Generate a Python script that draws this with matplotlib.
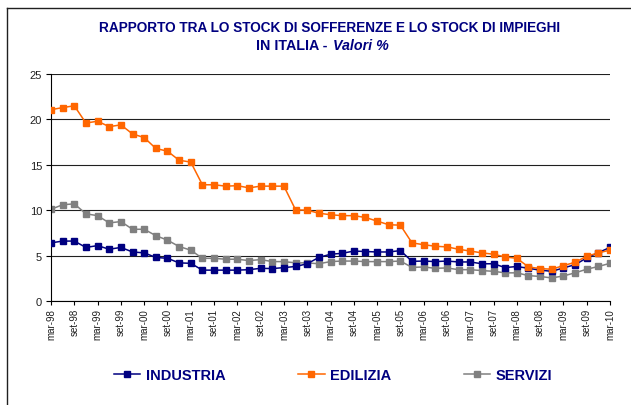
import matplotlib
matplotlib.use("Agg")
import matplotlib.pyplot as plt
from matplotlib.lines import Line2D

plt.rcParams['font.family'] = ['Liberation Sans', 'DejaVu Sans']

years = ["98", "99", "00", "01", "02", "03", "04", "05", "06", "07", "08", "09", "10"]
tick_labels = []
for y in years:
    tick_labels.append("mar-" + y)
    if y != "10":
        tick_labels.append("set-" + y)

industria = [6.4, 6.6, 6.6, 5.9, 6.1, 5.7, 5.9, 5.4, 5.3, 4.8, 4.7, 4.2, 4.15, 3.4, 3.4, 3.4,
             3.4, 3.45, 3.6, 3.57, 3.68, 3.8, 4.1, 4.8, 5.15, 5.25, 5.5, 5.45, 5.4, 5.4, 5.55, 4.37,
             4.4, 4.34, 4.4, 4.3, 4.3, 4.1, 4.1, 3.68, 3.8, 3.6, 3.4, 3.27, 3.64, 4.0, 4.74, 5.33, 5.9]
edilizia = [21.07, 21.3, 21.5, 19.6, 19.8, 19.2, 19.4, 18.4, 18.0, 16.8, 16.5, 15.5, 15.3, 12.8, 12.8, 12.65,
            12.7, 12.46, 12.65, 12.65, 12.65, 10.04, 10.0, 9.67, 9.5, 9.4, 9.4, 9.2, 8.8, 8.4, 8.35, 6.4,
            6.2, 6.03, 5.96, 5.7, 5.5, 5.3, 5.15, 4.85, 4.7, 3.75, 3.57, 3.5, 3.9, 4.26, 4.93, 5.3, 5.6]
servizi = [10.1, 10.6, 10.7, 9.6, 9.4, 8.6, 8.75, 7.9, 7.9, 7.2, 6.7, 6.0, 5.6, 4.7, 4.7, 4.6,
           4.6, 4.45, 4.56, 4.34, 4.34, 4.2, 4.2, 4.1, 4.34, 4.4, 4.4, 4.34, 4.34, 4.34, 4.4, 3.7,
           3.75, 3.6, 3.64, 3.45, 3.45, 3.35, 3.27, 3.1, 3.1, 2.8, 2.7, 2.54, 2.76, 3.1, 3.5, 3.8, 4.15]

NAVY = '#000080'
ORANGE = '#FF6600'
GREY = '#808080'

fig = plt.figure(figsize=(6.31, 4.06), dpi=100)
ax = fig.add_axes([51/631, 1-302/406, (610-51)/631, (302-75)/406])

x = list(range(len(industria)))
lw = 1.1
ms = 4.2
l1, = ax.plot(x, industria, color=NAVY, lw=lw, marker='s', ms=ms, label='INDUSTRIA', zorder=3)
l2, = ax.plot(x, edilizia, color=ORANGE, lw=lw, marker='s', ms=ms, label='EDILIZIA', zorder=3)
l3, = ax.plot(x, servizi, color=GREY, lw=lw, marker='s', ms=ms, label='SERVIZI', zorder=2)

ax.set_xlim(0, len(industria) - 1)
ax.set_ylim(0, 25)
ax.set_yticks([0, 5, 10, 15, 20, 25])
ax.set_xticks(list(range(0, len(industria), 2)))
ax.set_xticklabels(tick_labels, rotation=90, fontsize=7)
ax.tick_params(axis='y', labelsize=8, direction='out', length=3.5, width=0.8, pad=3,
               labelcolor='#202020')
ax.tick_params(axis='x', direction='out', length=3, width=0.8, pad=2, labelcolor='#202020')

ax.yaxis.grid(True, color='#202020', lw=0.8)
ax.set_axisbelow(True)
for s in ['top', 'right']:
    ax.spines[s].set_visible(False)
for s in ['left', 'bottom']:
    ax.spines[s].set_color('black')
    ax.spines[s].set_linewidth(0.8)

# page frame lines
fig.add_artist(Line2D([7/631, 1], [1-9/406, 1-9/406], color='#202020', lw=1.0))
fig.add_artist(Line2D([7/631, 7/631], [0, 1-9/406], color='#202020', lw=1.0))

fig.text(329.5/631, 1-28/406, "RAPPORTO TRA LO STOCK DI SOFFERENZE E LO STOCK DI IMPIEGHI",
         ha='center', va='center', fontsize=9.8, fontweight='bold', color=NAVY)
fig.text(327/631, 1-46/406, "IN ITALIA -", ha='right', va='center',
         fontsize=10.3, fontweight='bold', color=NAVY)
fig.text(333/631, 1-46/406, "Valori %", ha='left', va='center',
         fontsize=10.3, fontstyle='italic', fontweight='bold', color=NAVY)

leg = fig.legend(handles=[l1, l2, l3], loc='center', bbox_to_anchor=(333/631, 1-376/406),
                 ncol=3, frameon=False, handlelength=1.8, handletextpad=0.35,
                 columnspacing=5.0, prop={'size': 10.5, 'weight': 'bold'})
for t in leg.get_texts():
    t.set_color(NAVY)

fig.savefig('out.png', dpi=100)
